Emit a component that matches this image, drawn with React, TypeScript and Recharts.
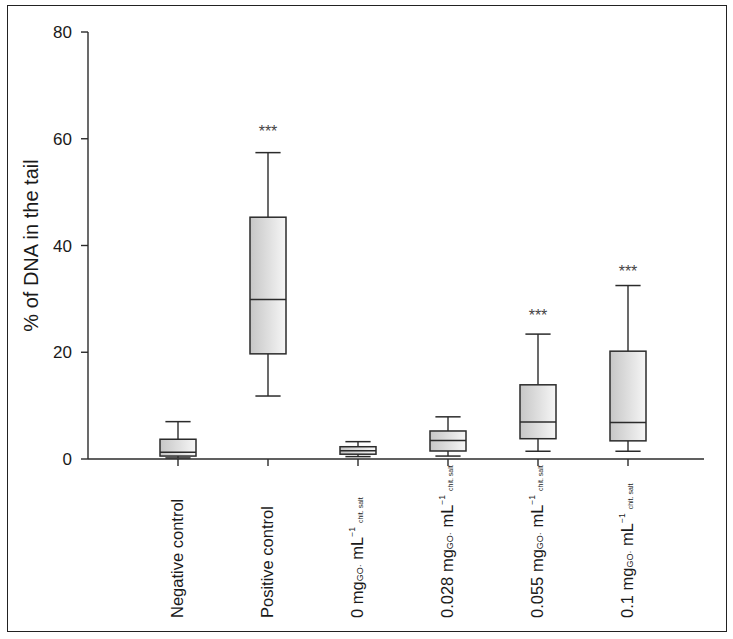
import React from "react";
import { ComposedChart, Bar, XAxis, YAxis } from "recharts";

// groups on the x axis; doses are rendered as "x mg_GO · mL^-1 chit. salt"
const groups = ["Negative control", "Positive control", "0", "0.028", "0.055", "0.1"];

// box plot statistics (% of DNA in the tail)
const whiskerLow = [0.2, 11.8, 0.45, 0.55, 1.45, 1.45];
const q1 = [0.55, 19.7, 0.9, 1.5, 3.8, 3.4];
const median = [1.25, 29.9, 1.55, 3.45, 6.95, 6.85];
const q3 = [3.7, 45.3, 2.3, 5.25, 13.9, 20.2];
const whiskerHigh = [7.0, 57.4, 3.25, 7.9, 23.4, 32.5];

// significance marks and the value they sit at
const sigMark = ["", "***", "", "", "***", "***"];
const sigAt = [0, 62.0, 0, 0, 27.6, 35.7];

const yTicks = [0, 20, 40, 60, 80];

const FONT = '"Liberation Sans", Arial, Helvetica, sans-serif';
const INK = "#2b2b2b";
const W = 733;
const H = 639;

const data = groups.map((name, i) => ({
    name,
    range: [whiskerLow[i], whiskerHigh[i]],
    lo: whiskerLow[i],
    q1: q1[i],
    med: median[i],
    q3: q3[i],
    hi: whiskerHigh[i],
    sig: sigMark[i],
    sigAt: sigAt[i],
}));

const BoxShape = (props: any) => {
    const { x, y, width, height, payload } = props;
    const { lo, hi } = payload;
    const k = height / (hi - lo);
    const toY = (v: number) => y + height - (v - lo) * k;
    const cx = x + width / 2;
    const cap = width * 0.35;
    return (
        <g>
            <line x1={cx} x2={cx} y1={toY(hi)} y2={toY(payload.q3)} stroke={INK} strokeWidth={1.4} />
            <line x1={cx} x2={cx} y1={toY(payload.q1)} y2={toY(lo)} stroke={INK} strokeWidth={1.4} />
            <line x1={cx - cap} x2={cx + cap} y1={toY(hi)} y2={toY(hi)} stroke={INK} strokeWidth={1.5} />
            <line x1={cx - cap} x2={cx + cap} y1={toY(lo)} y2={toY(lo)} stroke={INK} strokeWidth={1.5} />
            <rect
                x={x}
                y={toY(payload.q3)}
                width={width}
                height={toY(payload.q1) - toY(payload.q3)}
                fill="url(#boxFill)"
                stroke={INK}
                strokeWidth={1.5}
            />
            <line x1={x} x2={x + width} y1={toY(payload.med)} y2={toY(payload.med)} stroke={INK} strokeWidth={1.5} />
            {payload.sig && (
                <text x={cx} y={toY(payload.sigAt) + 9} textAnchor="middle" fontSize={16} fill="#444" fontFamily={FONT}>
                    {payload.sig}
                </text>
            )}
        </g>
    );
};

const GroupTick = (props: any) => {
    const { x, payload } = props;
    const label: string = payload.value;
    const bx = x + 5;
    const by = H - 21;
    const isDose = !isNaN(Number(label));
    return (
        <text
            x={bx}
            y={by}
            transform={`rotate(-90, ${bx}, ${by})`}
            textAnchor="start"
            fontSize={16.5}
            fill="#1a1a1a"
            fontFamily={FONT}
        >
            {isDose ? (
                <>
                    <tspan>{label} mg</tspan>
                    <tspan fontSize={9}>GO·</tspan>
                    <tspan> mL</tspan>
                    <tspan fontSize={8.5} dy={-8}>−1</tspan>
                    <tspan fontSize={7} dy={8} dx={4}>chit. salt</tspan>
                </>
            ) : (
                label
            )}
        </text>
    );
};

const YTitle = (props: any) => {
    const vb = props.viewBox || { x: 28, y: 32, width: 60, height: 427 };
    const tx = vb.x + 3;
    const ty = vb.y + vb.height / 2;
    return (
        <text
            x={tx}
            y={ty}
            transform={`rotate(-90, ${tx}, ${ty})`}
            textAnchor="middle"
            dominantBaseline="central"
            fontSize={20}
            fill="#1a1a1a"
            fontFamily={FONT}
        >
            % of DNA in the tail
        </text>
    );
};

export default function App() {
    return (
        <div style={{ position: "absolute", left: 0, top: 0, width: W, height: H, background: "#fff" }}>
            <ComposedChart
                width={W}
                height={H}
                data={data}
                margin={{ top: 32, right: 29, bottom: 10, left: 28 }}
            >
                <defs>
                    <linearGradient id="boxFill" x1="0" y1="0" x2="1" y2="0">
                        <stop offset="0%" stopColor="#c6c6c6" />
                        <stop offset="100%" stopColor="#f6f6f6" />
                    </linearGradient>
                </defs>
                <XAxis
                    dataKey="name"
                    type="category"
                    height={170}
                    padding={{ left: 45, right: 31 }}
                    axisLine={{ stroke: INK, strokeWidth: 1.4 }}
                    tickLine={{ stroke: INK, strokeWidth: 1.4 }}
                    tickSize={7}
                    interval={0}
                    tick={<GroupTick />}
                />
                <YAxis
                    type="number"
                    domain={[0, 80]}
                    ticks={yTicks}
                    width={60}
                    axisLine={{ stroke: INK, strokeWidth: 1.4 }}
                    tickLine={{ stroke: INK, strokeWidth: 1.4 }}
                    tickSize={7}
                    tickMargin={9}
                    tick={{ fontSize: 17, fill: "#1a1a1a", fontFamily: FONT }}
                    label={<YTitle />}
                />
                <Bar dataKey="range" barSize={36} shape={<BoxShape />} isAnimationActive={false} />
            </ComposedChart>
            <div
                style={{
                    position: "absolute",
                    left: 7,
                    top: 5,
                    width: 720,
                    height: 627,
                    boxSizing: "border-box",
                    border: "1.5px solid #222",
                    pointerEvents: "none",
                }}
            />
        </div>
    );
}
